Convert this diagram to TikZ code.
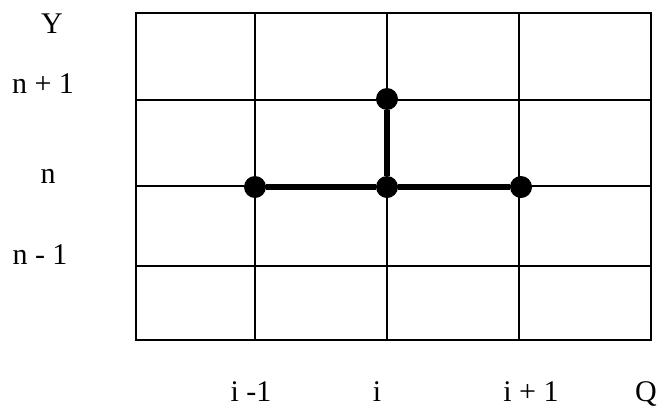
\documentclass[tikz,border=0pt]{standalone}
\usepackage{fontspec}
\setmainfont{Liberation Serif}
\begin{document}
\begin{tikzpicture}[x=1pt,y=-1pt,
  gridline/.style={line width=1.6pt},
  dot/.style={circle,fill=black,inner sep=0pt,minimum size=22pt},
  stem/.style={line width=6pt},
  lbl/.style={anchor=base,font=\fontsize{30}{36}\selectfont,inner sep=0pt}]
\useasboundingbox (0,0) rectangle (664,416);
% grid
\draw[gridline] (136,13) rectangle (651,340);
\foreach \x in {255,387,519} \draw[gridline] (\x,13) -- (\x,340);
\foreach \y in {100,186,266} \draw[gridline] (136,\y) -- (651,\y);
% stencil
\node[dot] (w) at (255,187) {};
\node[dot] (c) at (387,187) {};
\node[dot] (e) at (521,187) {};
\node[dot] (nn) at (387,99) {};
\draw[stem] (w) -- (c) -- (e);
\draw[stem] (c) -- (nn);
% labels
\node[lbl] (ly) at (52,33) {Y};
\node[lbl] (lnp) at (43,93) {n + 1};
\node[lbl] (ln) at (48,183) {n};
\node[lbl] (lnm) at (40,264) {n - 1};
\node[lbl] (lim) at (251,401) {i -1};
\node[lbl] (li) at (377,401) {i};
\node[lbl] (lip) at (531,401) {i + 1};
\node[lbl] (lq) at (646,401) {Q};
\end{tikzpicture}
\end{document}
